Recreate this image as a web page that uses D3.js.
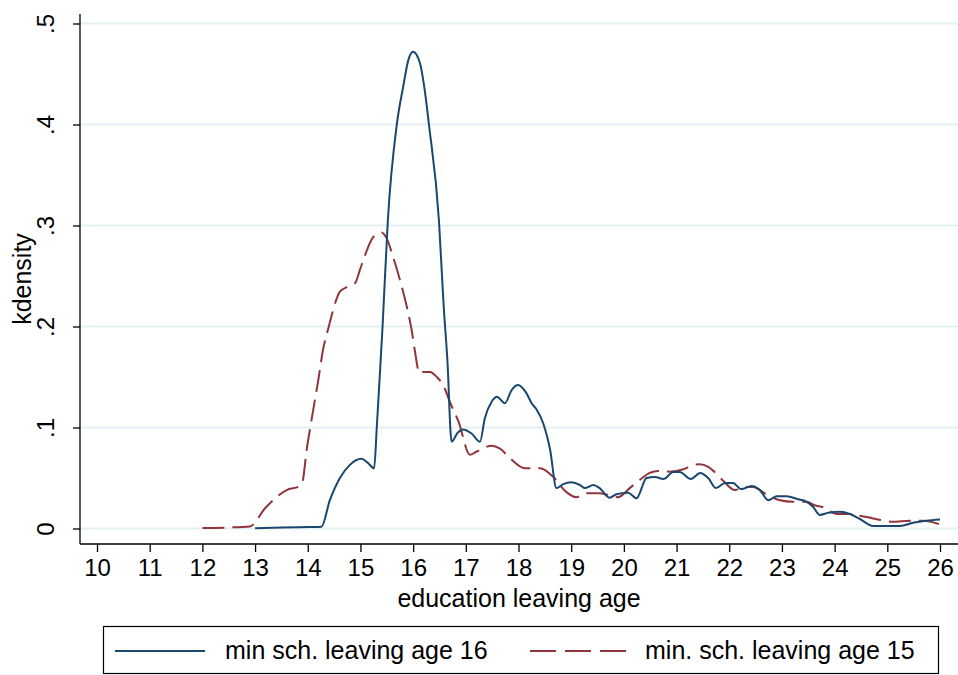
<!DOCTYPE html>
<html lang="en">
<head>
  <meta charset="UTF-8" />
  <title>kdensity of education leaving age</title>
  <script src="https://d3js.org/d3.v7.min.js"></script>
  <style>
    body { margin: 0; background: #fff; }
    text { font-family: "Liberation Sans", Arial, Helvetica, sans-serif; fill: #000; }
  </style>
</head>
<body>
  <div id="chart"></div>

  <script>
    // x ticks and y ticks
    var xTicks = [10, 11, 12, 13, 14, 15, 16, 17, 18, 19, 20, 21, 22, 23, 24, 25, 26];
    var yTicks = [0, 0.1, 0.2, 0.3, 0.4, 0.5];
    var yTickLabels = ['0', '.1', '.2', '.3', '.4', '.5'];
    var seriesNames = ['min sch. leaving age 16', 'min. sch. leaving age 15'];

    // min school leaving age 16 (solid blue)
    var age16X = [13.0, 13.5, 14.0, 14.26, 14.42, 14.61, 14.8, 15.02, 15.14, 15.26, 15.31, 15.34, 15.42, 15.52,
      15.69, 15.81, 15.91, 16.0, 16.13, 16.22, 16.3, 16.49, 16.58, 16.65, 16.73, 16.85, 16.95, 17.11, 17.27,
      17.36, 17.49, 17.59, 17.74, 17.87, 17.99, 18.15, 18.25, 18.34, 18.47, 18.6, 18.72, 18.85, 19.0, 19.17,
      19.26, 19.42, 19.54, 19.73, 19.86, 20.08, 20.24, 20.43, 20.59, 20.75, 20.94, 21.06, 21.27, 21.45, 21.6,
      21.75, 21.92, 22.07, 22.23, 22.42, 22.58, 22.74, 22.9, 23.09, 23.31, 23.43, 23.59, 23.72, 23.88, 24.1,
      24.29, 24.48, 24.73, 25.24, 25.49, 25.74, 26.0];
    var age16Density = [0.0003, 0.001, 0.0015, 0.0018, 0.028, 0.05, 0.063, 0.069, 0.065, 0.0596, 0.1, 0.127, 0.2, 0.305,
      0.4, 0.437, 0.464, 0.472, 0.4606, 0.434, 0.4, 0.305, 0.22, 0.167, 0.086, 0.095, 0.098, 0.094, 0.086,
      0.109, 0.1255, 0.1305, 0.124, 0.137, 0.142, 0.134, 0.124, 0.118, 0.104, 0.078, 0.04, 0.044, 0.0457, 0.043,
      0.04, 0.043, 0.04, 0.0305, 0.034, 0.0355, 0.03, 0.05, 0.051, 0.049, 0.056, 0.056, 0.049, 0.055, 0.05,
      0.04, 0.045, 0.045, 0.039, 0.042, 0.038, 0.028, 0.032, 0.032, 0.029, 0.0275, 0.0216, 0.0134, 0.0156, 0.0166,
      0.0144, 0.0094, 0.0025, 0.0025, 0.0057, 0.0077, 0.009];

    // min school leaving age 15 (dashed red)
    var age15X = [12.0, 12.5, 12.9, 13.19, 13.6, 13.85, 13.9, 13.98, 14.07, 14.2, 14.29, 14.4, 14.48, 14.61,
      14.74, 14.9, 14.99, 15.09, 15.21, 15.31, 15.4, 15.5, 15.62, 15.75, 15.88, 15.97, 16.03, 16.12, 16.2,
      16.32, 16.45, 16.57, 16.7, 16.86, 17.08, 17.2, 17.49, 17.65, 17.84, 18.12, 18.41, 18.66, 18.91, 19.1,
      19.29, 19.54, 19.89, 20.11, 20.3, 20.49, 20.65, 20.87, 21.13, 21.32, 21.44, 21.6, 21.76, 21.89, 22.11,
      22.26, 22.45, 22.7, 22.96, 23.21, 23.47, 23.62, 23.78, 24.04, 24.29, 24.48, 24.73, 24.95, 25.1, 25.43,
      25.68, 25.98];
    var age15Density = [0.0005, 0.001, 0.002, 0.02, 0.038, 0.042, 0.046, 0.078, 0.107, 0.147, 0.177, 0.2, 0.216, 0.2345,
      0.239, 0.243, 0.256, 0.271, 0.286, 0.2916, 0.293, 0.287, 0.269, 0.246, 0.2196, 0.197, 0.177, 0.154, 0.155,
      0.155, 0.15, 0.142, 0.125, 0.106, 0.073, 0.076, 0.082, 0.079, 0.0695, 0.0596, 0.0596, 0.051, 0.036, 0.031,
      0.035, 0.035, 0.031, 0.04, 0.048, 0.055, 0.057, 0.0562, 0.0586, 0.063, 0.0636, 0.061, 0.054, 0.047, 0.038,
      0.041, 0.041, 0.034, 0.028, 0.0265, 0.0265, 0.023, 0.021, 0.0144, 0.0144, 0.0127, 0.01, 0.0077, 0.0067, 0.0077,
      0.0077, 0.0044];

    var width = 958, height = 675;
    var plotLeft = 80, plotRight = 958, plotTop = 14, plotBottom = 544;

    var svg = d3.select('#chart')
      .append('svg')
      .attr('width', width)
      .attr('height', height);

    var xScale = d3.scaleLinear().domain([10, 26]).range([97, 940]);
    var yScale = d3.scaleLinear().domain([0, 0.5]).range([528.5, 23.5]);

    // gridlines
    svg.append('g')
      .selectAll('line')
      .data(yTicks)
      .join('line')
      .attr('x1', plotLeft)
      .attr('x2', plotRight)
      .attr('y1', d => yScale(d))
      .attr('y2', d => yScale(d))
      .attr('stroke', '#e6eff2')
      .attr('stroke-width', 2);

    // y axis
    var yAxis = svg.append('g')
      .attr('transform', 'translate(' + plotLeft + ',0)')
      .call(d3.axisLeft(yScale).tickValues(yTicks).tickSize(7).tickFormat((d, i) => yTickLabels[i]));
    yAxis.select('.domain').attr('d', 'M0,' + plotTop + 'V' + plotBottom).attr('stroke', '#000').attr('stroke-width', 1.3);
    yAxis.selectAll('.tick line').attr('stroke', '#000').attr('stroke-width', 1.3);
    yAxis.selectAll('.tick text')
      .attr('x', null).attr('dy', null)
      .attr('transform', 'translate(-26,0) rotate(-90)')
      .attr('text-anchor', 'middle')
      .style('font-size', '24px');

    // x axis
    var xAxis = svg.append('g')
      .attr('transform', 'translate(0,' + plotBottom + ')')
      .call(d3.axisBottom(xScale).tickValues(xTicks).tickSize(8).tickFormat(d3.format('d')));
    xAxis.select('.domain').attr('d', 'M' + plotLeft + ',0H' + plotRight).attr('stroke', '#000').attr('stroke-width', 1.3);
    xAxis.selectAll('.tick line').attr('stroke', '#000').attr('stroke-width', 1.3);
    xAxis.selectAll('.tick text')
      .attr('y', 32).attr('dy', null)
      .style('font-size', '24px');

    // axis titles
    svg.append('text')
      .attr('x', (plotLeft + plotRight) / 2)
      .attr('y', 607)
      .attr('text-anchor', 'middle')
      .style('font-size', '25px')
      .text('education leaving age');

    svg.append('text')
      .attr('transform', 'translate(31,' + ((plotTop + plotBottom) / 2) + ') rotate(-90)')
      .attr('text-anchor', 'middle')
      .style('font-size', '25px')
      .text('kdensity');

    // density lines
    var line = d3.line()
      .x(d => xScale(d[0]))
      .y(d => yScale(d[1]))
      .curve(d3.curveMonotoneX);

    svg.append('path')
      .datum(d3.zip(age15X, age15Density))
      .attr('d', line)
      .attr('fill', 'none')
      .attr('stroke', '#90353b')
      .attr('stroke-width', 2)
      .attr('stroke-dasharray', '22,8');

    svg.append('path')
      .datum(d3.zip(age16X, age16Density))
      .attr('d', line)
      .attr('fill', 'none')
      .attr('stroke', '#1a476f')
      .attr('stroke-width', 2);

    // legend
    var legend = svg.append('g');
    legend.append('rect')
      .attr('x', 103.5).attr('y', 626.5)
      .attr('width', 835).attr('height', 47)
      .attr('fill', '#fff')
      .attr('stroke', '#000')
      .attr('stroke-width', 1.2);

    legend.append('line')
      .attr('x1', 115).attr('x2', 205).attr('y1', 651).attr('y2', 651)
      .attr('stroke', '#1a476f').attr('stroke-width', 2);
    legend.append('text')
      .attr('x', 225).attr('y', 659)
      .style('font-size', '25px')
      .text(seriesNames[0]);

    legend.append('line')
      .attr('x1', 530).attr('x2', 626).attr('y1', 651).attr('y2', 651)
      .attr('stroke', '#90353b').attr('stroke-width', 2)
      .attr('stroke-dasharray', '26,9');
    legend.append('text')
      .attr('x', 645).attr('y', 659)
      .style('font-size', '25px')
      .text(seriesNames[1]);
  </script>
</body>
</html>
